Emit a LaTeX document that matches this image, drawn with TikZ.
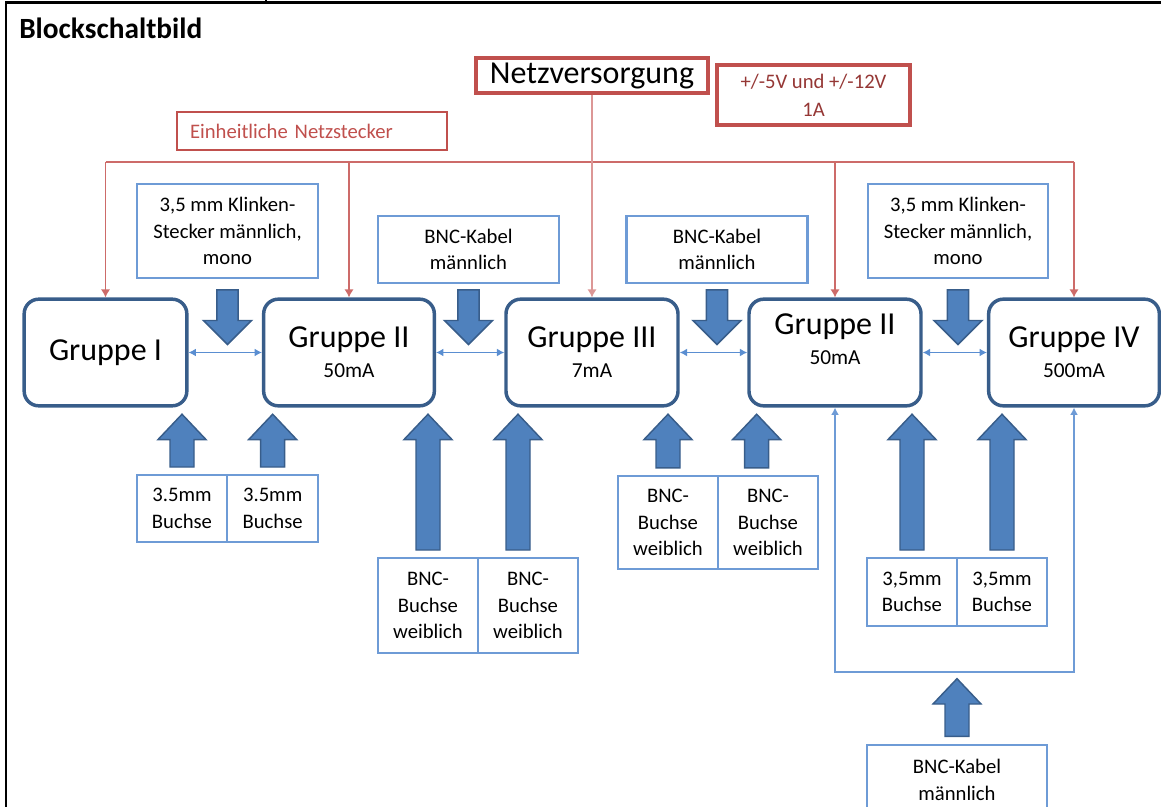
\documentclass[tikz,border=0pt]{standalone}
\usepackage{fontspec}
\setmainfont{Carlito}
\usetikzlibrary{positioning, arrows.meta, calc}
\definecolor{grpblue}{HTML}{385D8A}
\definecolor{arrblue}{HTML}{4F81BD}
\definecolor{boxblue}{HTML}{6E9BD6}
\definecolor{linkblue}{HTML}{5A8ED1}
\definecolor{psred}{HTML}{C0504D}
\definecolor{busred}{HTML}{CD6B69}
\definecolor{darkred}{HTML}{953735}
\tikzset{
    gruppe/.style={ % the five function groups
        draw=grpblue, line width=2.6pt, rounded corners=11pt,
        fill=white, align=center,
        minimum width=128pt, minimum height=80pt,
        font=\fontsize{24}{22.5}\selectfont
    },
    infobox/.style={ % plug / socket descriptions
        draw=boxblue, line width=1.6pt, align=center, inner sep=2pt,
        font=\fontsize{15.5}{20}\selectfont
    },
    pairbox/.style={infobox, outer sep=0pt, minimum width=67.5pt},
    powerbox/.style={draw=psred, line width=2.6pt, align=center},
    bus/.style={draw=busred, line width=1.4pt},
    feed/.style={bus, -{Latex[length=6pt,width=7pt]}},
    link/.style={ % thin double arrows between groups
        draw=linkblue, line width=1.4pt,
        {Latex[length=5.5pt,width=6pt]}-{Latex[length=5.5pt,width=6pt]}
    },
    blockarrow/.style={fill=arrblue, draw=grpblue, line width=1.1pt},
}
\newcommand{\curr}[1]{{\fontsize{16}{18}\selectfont #1}}
% big arrow upwards: x and start from #1, tip below #2
\newcommand{\blockup}[2]{%
  \path[blockarrow] let \p1=(#1), \p2=(#2) in
    ({\x1-9pt},{\y1+6pt}) -- ({\x1-9pt},{\y2-24pt}) -- ({\x1-18pt},{\y2-24pt})
    -- (\x1,{\y2-5pt}) -- ({\x1+18pt},{\y2-24pt}) -- ({\x1+9pt},{\y2-24pt})
    -- ({\x1+9pt},{\y1+6pt}) -- cycle;}
% big arrow downwards: x from #1, tip just above the link at #2
\newcommand{\blockdown}[2]{%
  \path[blockarrow] let \p1=(#1), \p2=(#2) in
    ({\x1-8pt},{\y2+47pt}) -- ({\x1-8pt},{\y2+24pt}) -- ({\x1-18pt},{\y2+24pt})
    -- (\x1,{\y2+6pt}) -- ({\x1+18pt},{\y2+24pt}) -- ({\x1+8pt},{\y2+24pt})
    -- ({\x1+8pt},{\y2+47pt}) -- cycle;}

\begin{document}
\begin{tikzpicture}[x=0.75pt, y=-0.75pt]
    \useasboundingbox (0,0) rectangle (1161,807);
    \clip (0,0) rectangle (1161,807);
    % frame of the table cell
    \draw[line width=2.2pt] (6,807) -- (6,2.5) -- (1161,2.5);
    \draw[line width=1.5pt] (266,0) -- (266,3);
    \node[anchor=base west, inner sep=0pt, font=\bfseries\fontsize{22}{24}\selectfont] (title) at (19,38) {Blockschaltbild};

    % power supply
    \node[powerbox, minimum width=174pt, minimum height=26pt, inner sep=0pt,
          font=\fontsize{24}{24}\selectfont]                          (netz)    at (592,75.5) {Netzversorgung};
    \node[powerbox, minimum width=144.75pt, minimum height=45pt, text=darkred,
          font=\fontsize{15.5}{21}\selectfont]                        (volt)    at (813.5,95) {+/-5V und +/-12V\\1A};
    \node[draw=psred, line width=1.3pt, text=psred, text width=183pt, align=left,
          minimum width=202.5pt, minimum height=28.5pt,
          font=\fontsize{15.5}{20}\selectfont]                        (stecker) at (312,131) {Einheitliche Netzstecker};

    % groups
    \node[gruppe, minimum width=122pt] (g1)  at (105.5,352.5) {Gruppe I};
    \node[gruppe]                      (g2)  at (349,352.5)   {Gruppe II\\\curr{50mA}};
    \node[gruppe, minimum width=129pt] (g3)  at (592,352.5)   {Gruppe III\\\curr{7mA}};
    \node[gruppe, minimum width=129pt] (g2b) at (835,352.5)   {Gruppe II\\\curr{50mA}\\[-2pt]\mbox{}};
    \node[gruppe]                      (g4)  at (1074,352.5)  {Gruppe IV\\\curr{500mA}};

    % plugs above
    \node[infobox, minimum width=135.75pt, minimum height=70.5pt]  (klinke1) at (227.5,231) {3,5 mm Klinken-\\Stecker männlich,\\mono};
    \node[infobox, minimum width=135.75pt, minimum height=50.25pt] (bnc1)    at (468.5,249.5) {BNC-Kabel\\männlich};
    \node[infobox, minimum width=135.75pt, minimum height=50.25pt] (bnc2)    at (717,249.5) {BNC-Kabel\\männlich};
    \node[infobox, minimum width=135pt, minimum height=70.5pt]     (klinke2) at (958,231) {3,5 mm Klinken-\\Stecker männlich,\\mono};

    % sockets below
    \node[pairbox, minimum width=68pt, minimum height=50.25pt] (b35a) at (182,508.5) {3.5mm\\Buchse};
    \node[pairbox, minimum width=68pt, minimum height=50.25pt, right=0pt of b35a] (b35b) {3.5mm\\Buchse};
    \node[pairbox, minimum width=75pt, minimum height=71.25pt] (bnca) at (428,605.5) {BNC-\\Buchse\\weiblich};
    \node[pairbox, minimum width=75pt, minimum height=71.25pt, right=0pt of bnca] (bncb) {BNC-\\Buchse\\weiblich};
    \node[pairbox, minimum width=75pt, minimum height=70pt]    (bncc) at (668,522.5) {BNC-\\Buchse\\weiblich};
    \node[pairbox, minimum width=75pt, minimum height=70pt, right=0pt of bncc] (bncd) {BNC-\\Buchse\\weiblich};
    \node[pairbox, minimum width=67.5pt, minimum height=51pt]  (b35c) at (912,592) {3,5mm\\Buchse};
    \node[pairbox, minimum width=67.5pt, minimum height=51pt, right=0pt of b35c] (b35d) {3,5mm\\Buchse};
    \node[infobox, minimum width=135pt, minimum height=52pt]   (bnc3) at (957,780) {BNC-Kabel\\männlich};

    % power distribution
    \coordinate (bus) at (592,162);
    \draw[bus] (g1.north |- bus) -- (g4.north |- bus);
    \foreach \g in {g1, g2, g2b, g4}
        \draw[feed] (\g.north |- bus) -- (\g.north);
    \draw[feed, draw=busred!70] (netz.south) -- (g3.north);

    % links between the groups
    \draw[link] (g1) -- (g2);
    \draw[link] (g2) -- (g3);
    \draw[link] (g3) -- (g2b);
    \draw[link] (g2b) -- (g4);
    \coordinate (loop) at (957,672);
    \draw[link, draw=boxblue, line width=2pt] (g2b.south) |- (loop) -| (g4.south);

    % big arrows
    \blockdown{klinke1.south}{g1.east}
    \blockdown{bnc1.south}{g2.east}
    \blockdown{bnc2.south}{g3.east}
    \blockdown{klinke2.south}{g2b.east}
    \blockup{b35a.north}{g1.south}
    \blockup{b35b.north}{g2.south}
    \blockup{bnca.north}{g2.south}
    \blockup{$(bncb.north)+(-7.5pt,0)$}{g3.south}
    \blockup{bncc.north}{g3.south}
    \blockup{$(bncd.north)+(-8.5pt,0)$}{g2b.south}
    \blockup{b35c.north}{g2b.south}
    \blockup{b35d.north}{g4.south}
    \blockup{bnc3.north}{loop}
\end{tikzpicture}
\end{document}
